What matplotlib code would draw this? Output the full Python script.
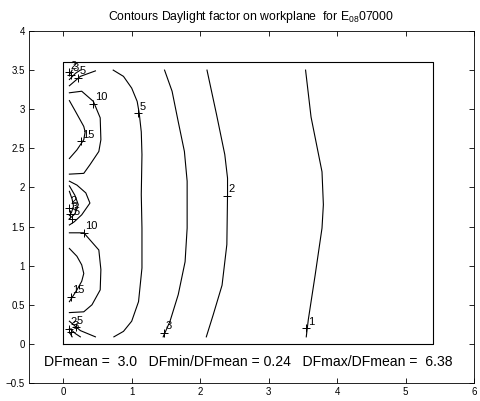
import matplotlib
matplotlib.use("Agg")
import matplotlib.pyplot as plt

plt.rcParams['font.family'] = ['Liberation Sans', 'DejaVu Sans']
plt.rcParams['mathtext.fontset'] = 'custom'
plt.rcParams['mathtext.rm'] = 'Liberation Sans'
plt.rcParams['mathtext.it'] = 'Liberation Sans'

# room outline (workplane)
room_x = [0, 5.4, 5.4, 0, 0]
room_y = [0, 0, 3.6, 3.6, 0]

# contour lines, one pair of lists per piece
df1_x = [3.54, 3.62, 3.78, 3.80, 3.78, 3.68, 3.58, 3.55]
df1_y = [3.50, 2.90, 2.20, 1.78, 1.48, 0.88, 0.31, 0.09]

df2_x = [2.10, 2.24, 2.36, 2.40, 2.40, 2.39, 2.32, 2.19, 2.09]
df2_y = [3.50, 2.93, 2.42, 2.12, 1.91, 1.27, 0.75, 0.37, 0.09]

df3_x = [1.48, 1.59, 1.68, 1.77, 1.81, 1.81, 1.81, 1.78, 1.68, 1.56, 1.46]
df3_y = [3.50, 3.23, 2.84, 2.46, 2.08, 1.78, 1.48, 1.05, 0.63, 0.29, 0.09]

df5_x = [0.73, 0.88, 1.00, 1.08, 1.11, 1.14, 1.15, 1.14, 1.15, 1.15, 1.10, 1.00, 0.88, 0.74]
df5_y = [3.50, 3.42, 3.27, 3.10, 2.95, 2.71, 2.42, 1.91, 1.48, 0.97, 0.54, 0.29, 0.16, 0.09]

df10_top_x = [0.09, 0.27, 0.44, 0.54, 0.55, 0.52, 0.39, 0.30, 0.09]
df10_top_y = [3.21, 3.23, 3.10, 2.89, 2.61, 2.46, 2.29, 2.18, 2.17]

df15_top_x = [0.09, 0.18, 0.30, 0.32, 0.30, 0.20, 0.09]
df15_top_y = [3.11, 2.97, 2.78, 2.71, 2.61, 2.48, 2.37]

df10_bot_x = [0.09, 0.30, 0.39, 0.52, 0.55, 0.54, 0.42, 0.30, 0.09]
df10_bot_y = [1.42, 1.42, 1.33, 1.20, 0.95, 0.69, 0.50, 0.41, 0.40]

df15_bot_x = [0.09, 0.20, 0.27, 0.30, 0.27, 0.20, 0.09]
df15_bot_y = [1.22, 1.12, 1.01, 0.90, 0.80, 0.69, 0.54]

# small contours near the wall (top corner, between windows, bottom corner)
df5_tl_x = [0.09, 0.25, 0.47]
df5_tl_y = [3.30, 3.42, 3.49]
df3_tl_x = [0.09, 0.18, 0.25]
df3_tl_y = [3.38, 3.46, 3.50]
df2_tl_x = [0.09, 0.13]
df2_tl_y = [3.44, 3.50]

df5_mid_x = [0.09, 0.20, 0.33, 0.39, 0.27, 0.16, 0.09]
df5_mid_y = [2.08, 2.03, 1.93, 1.80, 1.65, 1.56, 1.52]
df3_mid_x = [0.09, 0.17, 0.22, 0.17, 0.09]
df3_mid_y = [2.02, 1.90, 1.78, 1.66, 1.60]
df2_mid_x = [0.09, 0.13, 0.15, 0.12, 0.09]
df2_mid_y = [1.95, 1.85, 1.76, 1.68, 1.64]

df5_bl_x = [0.09, 0.25, 0.47]
df5_bl_y = [0.29, 0.17, 0.09]
df3_bl_x = [0.09, 0.18, 0.25]
df3_bl_y = [0.20, 0.13, 0.09]
df2_bl_x = [0.09, 0.13]
df2_bl_y = [0.15, 0.09]

contour_xs = [df1_x, df2_x, df3_x, df5_x, df10_top_x, df15_top_x, df10_bot_x, df15_bot_x,
              df5_tl_x, df3_tl_x, df2_tl_x, df5_mid_x, df3_mid_x, df2_mid_x,
              df5_bl_x, df3_bl_x, df2_bl_x]
contour_ys = [df1_y, df2_y, df3_y, df5_y, df10_top_y, df15_top_y, df10_bot_y, df15_bot_y,
              df5_tl_y, df3_tl_y, df2_tl_y, df5_mid_y, df3_mid_y, df2_mid_y,
              df5_bl_y, df3_bl_y, df2_bl_y]

# clabel positions
label_text = ['1', '2', '3', '5', '10', '15', '10', '15',
              '5', '3', '2', '5', '3', '2', '5', '3', '2']
label_x = [3.55, 2.39, 1.47, 1.09, 0.44, 0.26, 0.30, 0.11,
           0.22, 0.12, 0.09, 0.13, 0.10, 0.08, 0.18, 0.12, 0.08]
label_y = [0.20, 1.89, 0.14, 2.95, 3.07, 2.59, 1.42, 0.60,
           3.40, 3.44, 3.47, 1.60, 1.66, 1.74, 0.21, 0.15, 0.19]

df_mean = 3.0
df_min_ratio = 0.24
df_max_ratio = 6.38

fig = plt.figure(figsize=(4.81, 4.01), dpi=100)
ax = fig.add_axes([0.0603, 0.0449, 0.9251, 0.8778])

ax.plot(room_x, room_y, color='black', lw=0.8)
for xs, ys in zip(contour_xs, contour_ys):
    ax.plot(xs, ys, color='black', lw=0.8)

for t, x, y in zip(label_text, label_x, label_y):
    ax.plot(x, y, marker='+', color='black', ms=6, mew=0.7)
    ax.text(x + 0.02, y + 0.02, t, fontsize=8, ha='left', va='bottom')

ax.text(-0.28, -0.23,
        'DFmean =  %.1f   DFmin/DFmean = %.2f   DFmax/DFmean =  %.2f' % (df_mean, df_min_ratio, df_max_ratio),
        fontsize=10.1, ha='left', va='center')

ax.set_title(r'Contours Daylight factor on workplane  for E$_{08}$07000', fontsize=8.8, pad=8)
ax.set_xlim(-0.5, 6)
ax.set_ylim(-0.5, 4)
ax.set_xticks([0, 1, 2, 3, 4, 5, 6])
ax.set_yticks([-0.5, 0, 0.5, 1, 1.5, 2, 2.5, 3, 3.5, 4])
ax.set_yticklabels(['\u22120.5', '0', '0.5', '1', '1.5', '2', '2.5', '3', '3.5', '4'])
ax.tick_params(direction='in', top=True, right=True, length=3.5, width=0.6, labelsize=7, pad=3)
for s in ax.spines.values():
    s.set_linewidth(0.6)

fig.savefig('out.png', dpi=100)
